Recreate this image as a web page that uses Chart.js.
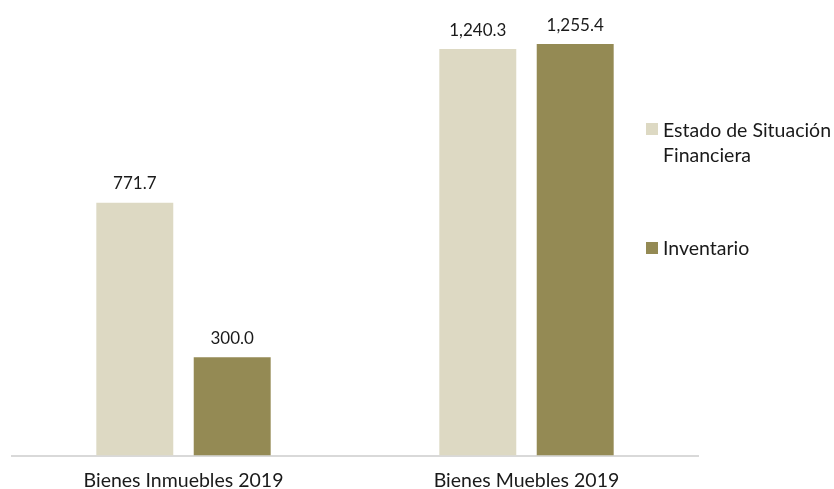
<!DOCTYPE html>
<html lang="es">
<head>
<meta charset="utf-8">
<title>Bienes 2019</title>
<script src="https://cdn.jsdelivr.net/npm/chart.js@4/dist/chart.umd.min.js"></script>
<style>
    html, body { margin: 0; padding: 0; background: #fff; }
    #wrap { position: relative; width: 834px; height: 489px; overflow: hidden; }
    .lg-item { position: absolute; left: 646px; font: 19.5px Lato, sans-serif; line-height: 25px; color: #1a1a1a; }
    .lg-box { position: absolute; left: 0; width: 12px; height: 12px; }
    .lg-text { position: absolute; left: 17px; white-space: nowrap; }
</style>
</head>
<body>
<div id="wrap">
    <canvas id="bienesChart" width="834" height="507"></canvas>
    <div class="lg-item" style="top:117px"><span class="lg-box" style="top:6px;background:#ddd9c3"></span><span class="lg-text">Estado de Situación<br>Financiera</span></div>
    <div class="lg-item" style="top:235px"><span class="lg-box" style="top:7px;background:#948a54"></span><span class="lg-text">Inventario</span></div>
</div>
<script>
/* ============================================================
   Bienes Inmuebles / Muebles 2019 – bar chart
   ============================================================ */

var categories = ['Bienes Inmuebles 2019', 'Bienes Muebles 2019'];
var seriesNames = ['Estado de Situación Financiera', 'Inventario'];
var estadoValues = [771.7, 1240.3];
var inventarioValues = [300.0, 1255.4];
var seriesColors = ['#ddd9c3', '#948a54'];

(function () {
    var FONT = 'Lato, sans-serif';

    // Value labels drawn above every bar
    var barLabels = {
        id: 'barLabels',
        afterDatasetsDraw: function (chart) {
            var ctx = chart.ctx;
            ctx.save();
            ctx.font = '17px ' + FONT;
            ctx.fillStyle = '#1a1a1a';
            ctx.textAlign = 'center';
            ctx.textBaseline = 'middle';
            chart.data.datasets.forEach(function (ds, i) {
                chart.getDatasetMeta(i).data.forEach(function (bar, j) {
                    var txt = ds.data[j].toLocaleString('en-US', { minimumFractionDigits: 1, maximumFractionDigits: 1 });
                    ctx.fillText(txt, bar.x, bar.y - 19);
                });
            });
            ctx.restore();
        }
    };

    /* ── Chart ────────────────────────────────────────── */
    new Chart(document.getElementById('bienesChart'), {
        type: 'bar',
        data: {
            labels: categories,
            datasets: [
                { label: seriesNames[0], data: estadoValues, backgroundColor: seriesColors[0] },
                { label: seriesNames[1], data: inventarioValues, backgroundColor: seriesColors[1] }
            ]
        },
        options: {
            responsive: false,
            animation: false,
            layout: { padding: { left: 12, right: 136, top: 29.5, bottom: 1 } },
            datasets: { bar: { categoryPercentage: 0.568, barPercentage: 0.79 } },
            plugins: { legend: { display: false }, tooltip: { enabled: false } },
            scales: {
                x: {
                    grid: { display: false, drawTicks: false, tickLength: 0 },
                    border: { display: true, color: '#d9d9d9', width: 2 },
                    ticks: { color: '#1a1a1a', padding: 13.5, font: { family: FONT, size: 19.5 } }
                },
                y: { display: false, min: 0, max: 1300 }
            }
        },
        plugins: [barLabels]
    });
})();
</script>
</body>
</html>
